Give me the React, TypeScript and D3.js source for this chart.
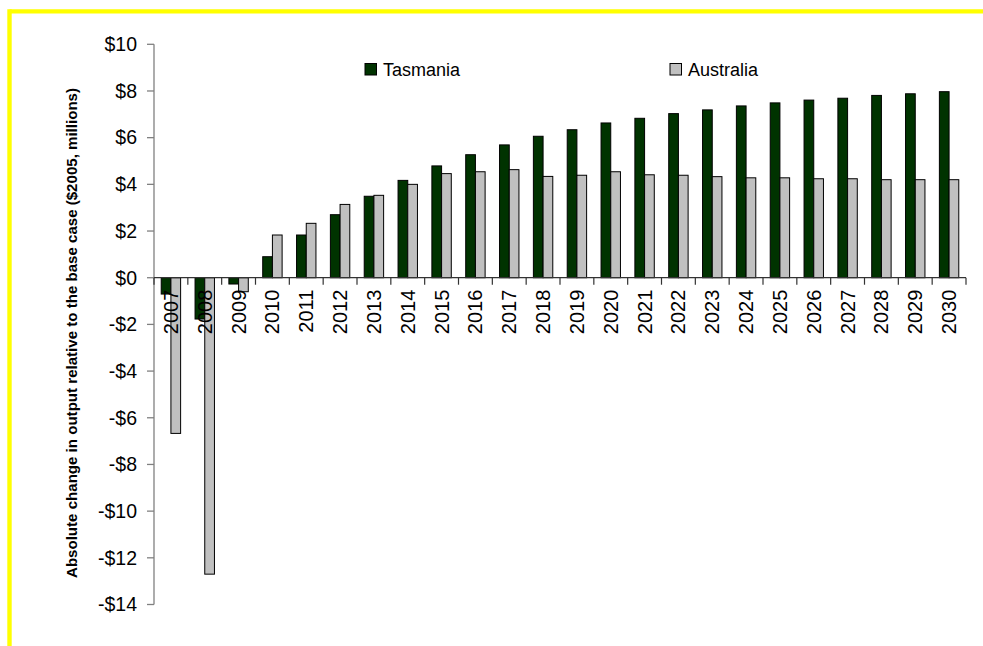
import React from "react";
import * as d3 from "d3";

const years = ["2007","2008","2009","2010","2011","2012","2013","2014","2015","2016","2017","2018","2019","2020","2021","2022","2023","2024","2025","2026","2027","2028","2029","2030"];
const tasmania = [-0.7,-1.77,-0.27,0.9,1.83,2.7,3.49,4.17,4.79,5.27,5.69,6.06,6.34,6.63,6.83,7.03,7.19,7.36,7.49,7.61,7.69,7.81,7.88,7.97];
const australia = [-6.67,-12.7,-0.6,1.83,2.33,3.14,3.53,4.0,4.46,4.54,4.63,4.34,4.39,4.54,4.41,4.39,4.33,4.28,4.28,4.24,4.24,4.2,4.2,4.2];
const yTicks = [10,8,6,4,2,0,-2,-4,-6,-8,-10,-12,-14];
const seriesNames = ["Tasmania","Australia"];
const seriesColors = ["#003300","#C0C0C0"];
const yLabel = "Absolute change in output relative to the base case ($2005, millions)";

const W = 983, H = 646;
const left = 154, right = 966, top = 44.3, bottom = 604.5;

export default function App() {
  const y = d3.scaleLinear().domain([-14, 10]).range([bottom, top]);
  const x = d3.scaleBand().domain(years).range([left, right]).paddingInner(0).paddingOuter(0);
  const bw = x.bandwidth();
  const barW = 9.7;
  const groupOff = (bw - 2 * barW) / 2;
  const y0 = y(0);
  const fmt = (v: number) => (v < 0 ? "-$" + Math.abs(v) : "$" + v);
  const series = [tasmania, australia];
  const font = "Arial, 'Liberation Sans', sans-serif";

  return (
    <div style={{ position: "fixed", left: 0, top: 0 }}>
      <svg width={W} height={H} style={{ display: "block", background: "#fff" }}>
        <rect x={0} y={0} width={W} height={H} fill="#fff" />
        {/* yellow frame */}
        <line x1={9.5} y1={11.3} x2={W + 5} y2={11.3} stroke="#FFFF00" strokeWidth={4.2} />
        <line x1={9.5} y1={9.2} x2={9.5} y2={H + 5} stroke="#FFFF00" strokeWidth={4.4} />

        {/* bars */}
        {series.map((vals, si) =>
          vals.map((v, i) => {
            const bx = (x(years[i]) as number) + groupOff + si * barW;
            const yv = y(v);
            return (
              <rect
                key={si + "-" + i}
                x={bx}
                y={Math.min(yv, y0)}
                width={barW}
                height={Math.abs(yv - y0)}
                fill={seriesColors[si]}
                stroke="#000"
                strokeWidth={1}
              />
            );
          })
        )}

        {/* y axis */}
        <line x1={left} y1={top} x2={left} y2={bottom} stroke="#808080" strokeWidth={1.3} />
        {yTicks.map((t) => (
          <g key={t}>
            <line x1={left - 7} y1={y(t)} x2={left} y2={y(t)} stroke="#808080" strokeWidth={1.3} />
            <text x={137} y={y(t)} dy="0.35em" textAnchor="end" fontFamily={font} fontSize={19.5} fill="#000">
              {fmt(t)}
            </text>
          </g>
        ))}

        {/* x axis (zero line) */}
        <line x1={left} y1={y0} x2={right} y2={y0} stroke="#333" strokeWidth={1.3} />
        {years.map((yr) => (
          <line key={"t" + yr} x1={(x(yr) as number) + bw} y1={y0} x2={(x(yr) as number) + bw} y2={y0 + 7} stroke="#333" strokeWidth={1.2} />
        ))}
        <line x1={left} y1={y0} x2={left} y2={y0 + 7} stroke="#333" strokeWidth={1.2} />
        {years.map((yr) => {
          const cx = (x(yr) as number) + bw / 2;
          const ty = y0 + 12;
          return (
            <text
              key={"l" + yr}
              x={cx}
              y={ty}
              transform={`rotate(-90 ${cx} ${ty})`}
              textAnchor="end"
              dy="0.35em"
              fontFamily={font}
              fontSize={20}
              fill="#000"
            >
              {yr}
            </text>
          );
        })}

        {/* legend */}
        {seriesNames.map((n, i) => {
          const lx = i === 0 ? 365 : 670;
          return (
            <g key={n}>
              <rect x={lx} y={63.5} width={11.5} height={11.5} fill={seriesColors[i]} stroke="#000" strokeWidth={1} />
              <text x={lx + 18} y={69.5} dy="0.35em" fontFamily={font} fontSize={18} fill="#000">
                {n}
              </text>
            </g>
          );
        })}

        {/* y label */}
        <text
          x={77}
          y={333}
          transform="rotate(-90 77 333)"
          textAnchor="middle"
          fontFamily={font}
          fontWeight="bold"
          fontSize={14}
          textLength={490}
          lengthAdjust="spacingAndGlyphs"
          fill="#000"
        >
          {yLabel}
        </text>
      </svg>
    </div>
  );
}
